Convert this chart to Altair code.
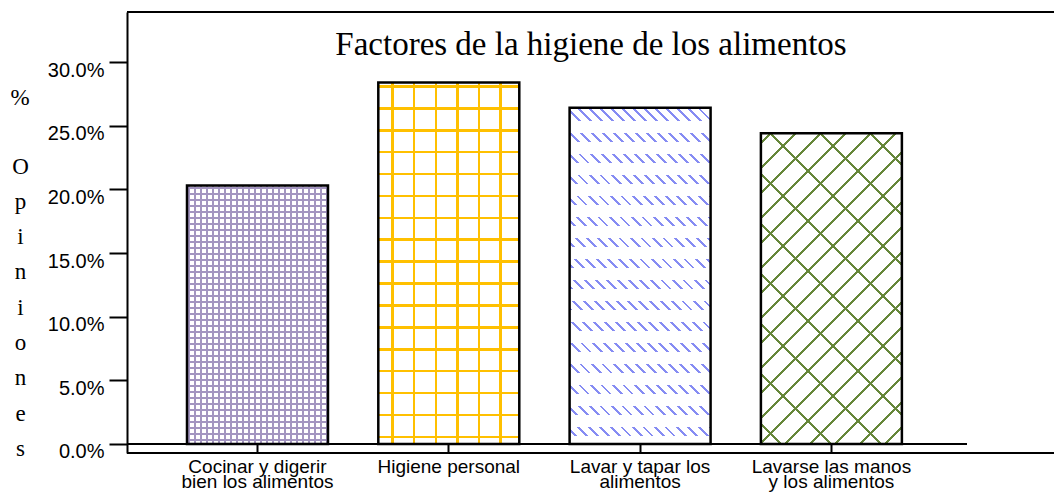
import altair as alt
import pandas as pd

# ---- data ----
categories = [
    "Cocinar y digerir\nbien los alimentos",
    "Higiene personal",
    "Lavar y tapar los\nalimentos",
    "Lavarse las manos\ny los alimentos",
]
values = [0.203, 0.284, 0.264, 0.244]
y_ticks = [0.0, 0.05, 0.10, 0.15, 0.20, 0.25, 0.30]
title_text = "Factores de la higiene de los alimentos"
y_title_lines = ["O", "p", "i", "n", "i", "o", "n", "e", "s"]
y_title_symbol = "%"

# ---- layout ----
W, H = 927, 441
Y_MIN, Y_MAX = -0.00707, 0.3393
n = len(categories)
STEP, P_IN, FIRST = 191.3, 0.263, 60.0
space = W / STEP
P_OUT = (space - n + P_IN) / 2
ALIGN = FIRST / (STEP * 2 * P_OUT)
BW = STEP * (1 - P_IN)
PX = H / (Y_MAX - Y_MIN)

df = pd.DataFrame({"cat": categories, "value": values, "idx": list(range(n))})

x_enc = alt.X("cat:N", sort=categories,
              scale=alt.Scale(paddingInner=P_IN, paddingOuter=P_OUT, align=ALIGN),
              axis=alt.Axis(title=None, labelAngle=0, domain=False, offset=-9,
                            tickSize=9, tickWidth=2, tickColor="black",
                            labelFont="Liberation Sans", labelFontSize=19,
                            labelColor="black", labelLineHeight=15,
                            labelPadding=4, labelBaseline="top",
                            labelExpr="split(datum.label, '\\n')"))
y_enc = alt.Y("value:Q",
              scale=alt.Scale(domain=[Y_MIN, Y_MAX], nice=False, zero=False),
              axis=alt.Axis(values=y_ticks, format=".1%", grid=False,
                            title=y_title_lines, titleAngle=0, titleAlign="center",
                            titleBaseline="top", titleX=-107, titleY=143,
                            titleFont="Liberation Serif", titleFontSize=23,
                            titleFontWeight="normal", titleLineHeight=35.3,
                            titleColor="black",
                            labelFont="Liberation Sans", labelFontSize=20,
                            labelColor="black", labelPadding=5, labelOffset=8,
                            tickSize=18, tickWidth=2, tickColor="black",
                            domainColor="black", domainWidth=2))

T = "rgba(255,255,255,0)"


def stripe_stops(L, period, width, offset, color):
    stops = []
    c = offset
    while c - width / 2 < L:
        a = max(0.0, (c - width / 2) / L)
        b = min(1.0, (c + width / 2) / L)
        if b > 0:
            stops += [(a, T), (a, color), (b, color), (b, T)]
        c += period
    return [{"offset": round(o, 5), "color": col} for o, col in stops]


def vstripes(w, h, period, width, offset, color):
    return {"gradient": "linear", "x1": 0, "y1": 0, "x2": 1, "y2": 0,
            "stops": stripe_stops(w, period, width, offset, color)}


def hstripes(w, h, period, width, offset, color):
    return {"gradient": "linear", "x1": 0, "y1": 0, "x2": 0, "y2": 1,
            "stops": stripe_stops(h, period, width, offset, color)}


def diag(w, h, direction, period, width, offset, color):
    k = (w + h) / (w * w + h * h)
    L = w + h
    if direction == "/":
        g = {"x1": 0, "y1": 0, "x2": k * w, "y2": k * h}
    else:
        g = {"x1": 0, "y1": 1, "x2": k * w, "y2": 1 - k * h}
    g.update({"gradient": "linear", "stops": stripe_stops(L, period, width, offset, color)})
    return g


def bar_h(i):
    return values[i] * PX


patterns = [
    [vstripes(BW, bar_h(0), 6, 2.0, 2, "#a395c0"),
     hstripes(BW, bar_h(0), 6, 2.0, 2, "#a395c0")],
    [vstripes(BW, bar_h(1), 21.6, 2.6, 14.3, "#ffc000"),
     hstripes(BW, bar_h(1), 21.9, 2.6, 4.0, "#ffc000")],
    [diag(BW, bar_h(2), "\\", 11, 2.8, 3, "#868cf3"),
     hstripes(BW, bar_h(2), 21, 12, 19.5, "white")],
    [diag(BW, bar_h(3), "/", 25, 2.8, 10, "#66873a"),
     diag(BW, bar_h(3), "\\", 50, 2.8, 20, "#66873a")],
]

base = alt.Chart(df)
layers = []
for i, pats in enumerate(patterns):
    for g in pats:
        layers.append(base.transform_filter(alt.datum.idx == i)
                      .mark_bar(fill=g).encode(x=x_enc, y=y_enc))

outline = base.mark_bar(fillOpacity=0, stroke="black", strokeWidth=2.5).encode(x=x_enc, y=y_enc)

one = alt.Chart(pd.DataFrame({"z": [0.0], "t": [title_text], "s": [y_title_symbol]}))
zero_line = one.mark_rule(color="black", strokeWidth=2).encode(
    y=alt.Y("z:Q"), x=alt.value(0), x2=alt.value(840))
top_line = one.mark_rule(color="black", strokeWidth=2).encode(
    y=alt.value(0), x=alt.value(0), x2=alt.value(W))
bottom_line = one.mark_rule(color="black", strokeWidth=2).encode(
    y=alt.value(H), x=alt.value(0), x2=alt.value(W))
title = one.mark_text(font="Liberation Serif", fontSize=33, align="center",
                      baseline="alphabetic", color="black").encode(
    text="t:N", x=alt.value(464), y=alt.value(43))
pct = one.mark_text(font="Liberation Serif", fontSize=23, align="center",
                    baseline="alphabetic", color="black").encode(
    text="s:N", x=alt.value(-107), y=alt.value(93))

chart = alt.layer(*layers, outline, zero_line, top_line, bottom_line, title, pct).properties(
    width=W, height=H,
    autosize=alt.AutoSizeParams(type="none"),
    padding={"left": 119, "top": 4, "right": 0, "bottom": 46},
    background="white",
).configure_view(stroke=None)

chart.save("out.html", embed_options={"renderer": "svg", "actions": False})
